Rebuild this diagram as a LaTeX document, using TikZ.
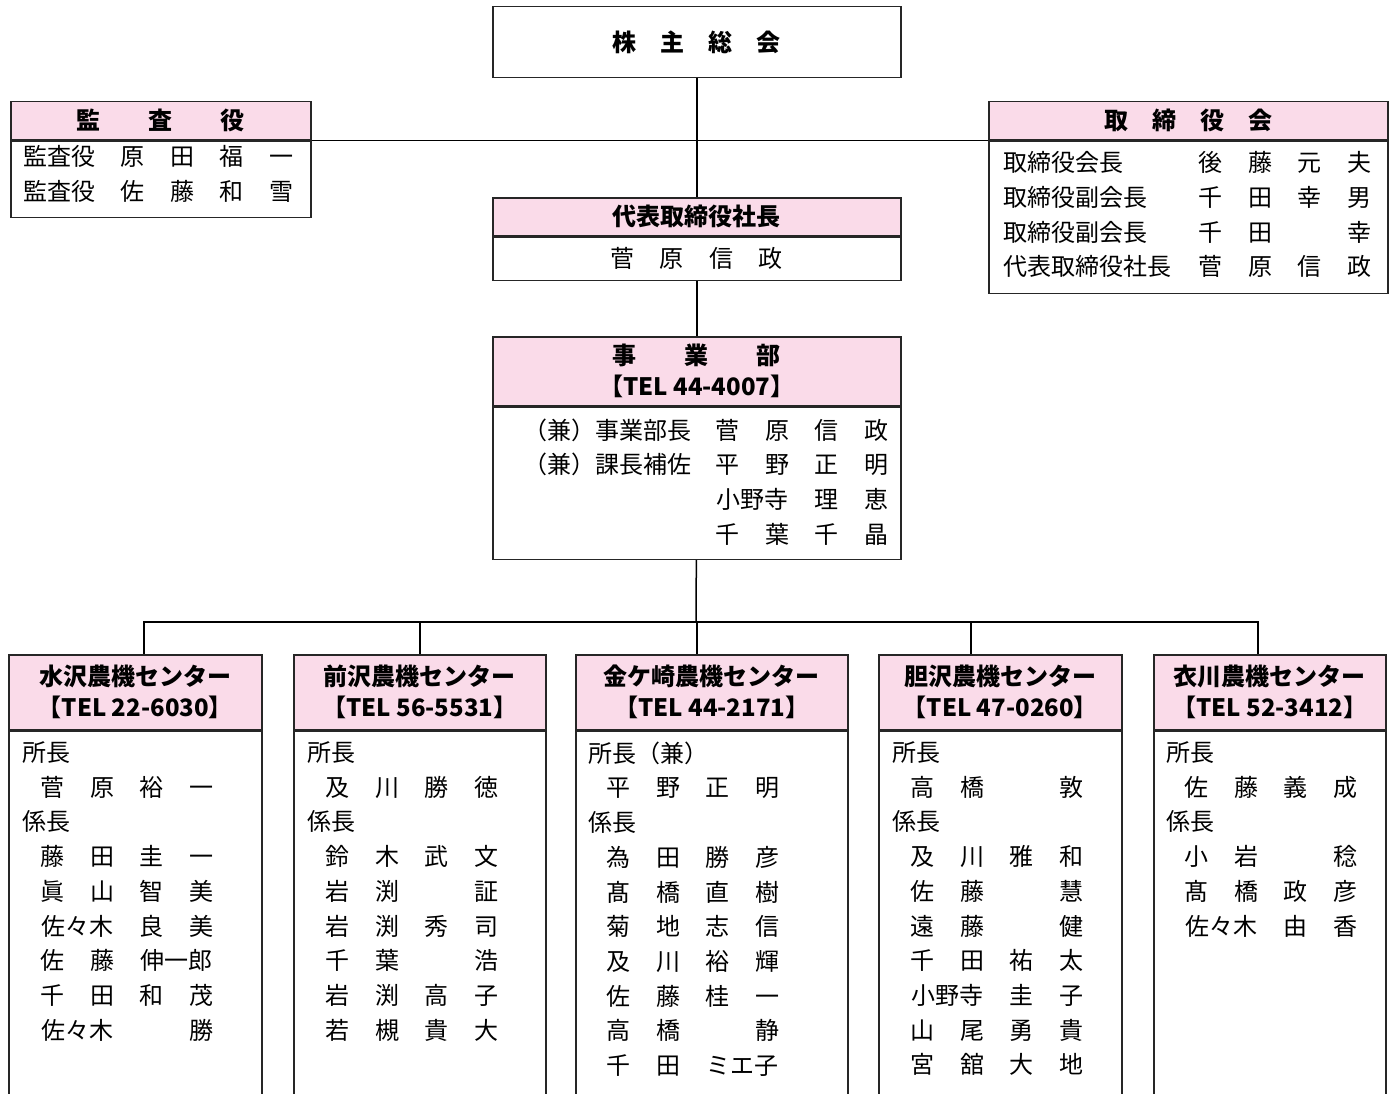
\documentclass[tikz,border=0pt]{standalone}
\usepackage{fontspec}
\setmainfont{Noto Sans CJK JP}
\usepackage{xcolor}
\usetikzlibrary{positioning}

\definecolor{headpink}{RGB}{250,219,233}
\newcommand\nm[1]{\makebox[49.5pt]{#1}}
\newcommand\nmw[1]{\makebox[99pt]{#1}}
\newcommand\mei[4]{\hspace*{6pt}\nm{#1}\nm{#2}\nm{#3}\nm{#4}}

\begin{document}
\begin{tikzpicture}[x=1pt, y=-1pt,
			box/.style={rectangle, draw=black!85, line width=1.5pt, inner sep=0pt, font=\fontsize{24}{31}\selectfont},
			head/.style={box, fill=headpink, align=center, anchor=north west, font=\fontsize{24}{31}\selectfont\bfseries},
			body/.style={box, fill=white},
			list/.style={anchor=north west, inner sep=0pt, align=left, font=\fontsize{24}{34.7}\selectfont, execute at begin node=\strut},
			conn/.style={line width=1.5pt, black}
		]
		\useasboundingbox (0,0) rectangle (1391,1094);
		\clip (0,0) rectangle (1391,1094);

		% Shareholders
		\node[box, anchor=north west, minimum width=408pt, minimum height=71pt, font=\fontsize{24}{31}\selectfont\bfseries] (soukai) at (492,6) {株\quad 主\quad 総\quad 会};

		% Auditors
		\node[head, minimum width=300pt, minimum height=38pt] (kansa) at (10,101) {監\qquad 査\qquad 役};
		\node[body, below=0pt of kansa, minimum width=300pt, minimum height=76pt] (kansa-b) {};
		\node[list] (kansa-t) at ([shift={(13,5)}]kansa-b.north west) {\makebox[85pt][l]{監査役}\nm{原}\nm{田}\nm{福}\nm{一}\\
			\makebox[85pt][l]{監査役}\nm{佐}\nm{藤}\nm{和}\nm{雪}};

		% Board
		\node[head, minimum width=399pt, minimum height=38pt] (tori) at (988,101) {取\quad 締\quad 役\quad 会};
		\node[body, below=0pt of tori, minimum width=399pt, minimum height=152pt] (tori-b) {};
		\node[list] (tori-t) at ([shift={(15,11)}]tori-b.north west) {\makebox[183pt][l]{取締役会長}\nm{後}\nm{藤}\nm{元}\nm{夫}\\
			\makebox[183pt][l]{取締役副会長}\nm{千}\nm{田}\nm{幸}\nm{男}\\
			\makebox[183pt][l]{取締役副会長}\nm{千}\nm{田}\nm{}\nm{幸}\\
			\makebox[183pt][l]{代表取締役社長}\nm{菅}\nm{原}\nm{信}\nm{政}};

		% President
		\node[head, minimum width=408pt, minimum height=38pt] (shacho) at (492,197) {代表取締役社長};
		\node[body, below=0pt of shacho, minimum width=408pt, minimum height=43pt] (shacho-b) {\nm{菅}\nm{原}\nm{信}\nm{政}};

		% Division
		\node[head, minimum width=408pt, minimum height=69pt] (jigyo) at (492,336) {事\qquad 業\qquad 部\\【TEL 44-4007】};
		\node[body, below=0pt of jigyo, minimum width=408pt, minimum height=152pt] (jigyo-b) {};
		\node[list] (jigyo-t) at ([shift={(28,12)}]jigyo-b.north west) {\makebox[183pt][r]{（兼）事業部長\hspace{12pt}}\nm{菅}\nm{原}\nm{信}\nm{政}\\
			\makebox[183pt][r]{（兼）課長補佐\hspace{12pt}}\nm{平}\nm{野}\nm{正}\nm{明}\\
			\makebox[183pt]{}\nmw{小野寺}\nm{理}\nm{恵}\\
			\makebox[183pt]{}\nm{千}\nm{葉}\nm{千}\nm{晶}};

		% Centres
		\node[head, minimum width=253pt, minimum height=75pt] (mizu) at (8,654) {水沢農機センター\\【TEL 22-6030】};
		\node[body, below=0pt of mizu, minimum width=253pt, minimum height=400pt] (mizu-b) {};
		\node[list] (mizu-t) at ([shift={(14,11)}]mizu-b.north west) {所長\\ \mei{菅}{原}{裕}{一}\\ 係長\\
			\mei{藤}{田}{圭}{一}\\ \mei{眞}{山}{智}{美}\\ \hspace*{6pt}\nmw{佐々木}\nm{良}\nm{美}\\
			\hspace*{6pt}\nm{佐}\nm{藤}\nmw{伸一郎}\\ \mei{千}{田}{和}{茂}\\ \hspace*{6pt}\nmw{佐々木}\nm{}\nm{勝}};

		\node[head, minimum width=252pt, minimum height=75pt] (mae) at (293,654) {前沢農機センター\\【TEL 56-5531】};
		\node[body, below=0pt of mae, minimum width=252pt, minimum height=400pt] (mae-b) {};
		\node[list] (mae-t) at ([shift={(14,11)}]mae-b.north west) {所長\\ \mei{及}{川}{勝}{徳}\\ 係長\\
			\mei{鈴}{木}{武}{文}\\ \mei{岩}{渕}{}{証}\\ \mei{岩}{渕}{秀}{司}\\
			\mei{千}{葉}{}{浩}\\ \mei{岩}{渕}{高}{子}\\ \mei{若}{槻}{貴}{大}};

		\node[head, minimum width=272pt, minimum height=75pt] (kane) at (575,654) {金ケ崎農機センター\\【TEL 44-2171】};
		\node[body, below=0pt of kane, minimum width=272pt, minimum height=400pt] (kane-b) {};
		\node[list] (kane-t) at ([shift={(13,11)}]kane-b.north west) {所長（兼）\\ \mei{平}{野}{正}{明}\\ 係長\\
			\mei{為}{田}{勝}{彦}\\ \mei{髙}{橋}{直}{樹}\\ \mei{菊}{地}{志}{信}\\
			\mei{及}{川}{裕}{輝}\\ \mei{佐}{藤}{桂}{一}\\ \mei{高}{橋}{}{静}\\
			\hspace*{6pt}\nm{千}\nm{田}\nmw{ミエ子}};

		\node[head, minimum width=243pt, minimum height=75pt] (isawa) at (878,654) {胆沢農機センター\\【TEL 47-0260】};
		\node[body, below=0pt of isawa, minimum width=243pt, minimum height=400pt] (isawa-b) {};
		\node[list] (isawa-t) at ([shift={(14,11)}]isawa-b.north west) {所長\\ \mei{高}{橋}{}{敦}\\ 係長\\
			\mei{及}{川}{雅}{和}\\ \mei{佐}{藤}{}{慧}\\ \mei{遠}{藤}{}{健}\\
			\mei{千}{田}{祐}{太}\\ \hspace*{6pt}\nmw{小野寺}\nm{圭}\nm{子}\\ \mei{山}{尾}{勇}{貴}\\
			\mei{宮}{舘}{大}{地}};

		\node[head, minimum width=232pt, minimum height=75pt] (koromo) at (1153,654) {衣川農機センター\\【TEL 52-3412】};
		\node[body, below=0pt of koromo, minimum width=232pt, minimum height=400pt] (koromo-b) {};
		\node[list] (koromo-t) at ([shift={(13,11)}]koromo-b.north west) {所長\\ \mei{佐}{藤}{義}{成}\\ 係長\\
			\mei{小}{岩}{}{稔}\\ \mei{髙}{橋}{政}{彦}\\ \hspace*{6pt}\nmw{佐々木}\nm{由}\nm{香}};

		% Lines
		\draw[conn] (soukai) -- (shacho);
		\draw[conn] (kansa.south east) -- (tori.south west);
		\draw[conn] (shacho-b) -- (jigyo);
		\coordinate (bus) at (696,622);
		\draw[conn] (jigyo-b) -- (bus);
		\draw[conn] (bus) -| ([xshift=8.5pt]mizu.north);
		\draw[conn] (bus) -| (mae);
		\draw[conn] (bus) -| ([xshift=-15pt]kane.north);
		\draw[conn] (bus) -| ([xshift=-29.5pt]isawa.north);
		\draw[conn] (bus) -| ([xshift=-12pt]koromo.north);

	\end{tikzpicture}
\end{document}
